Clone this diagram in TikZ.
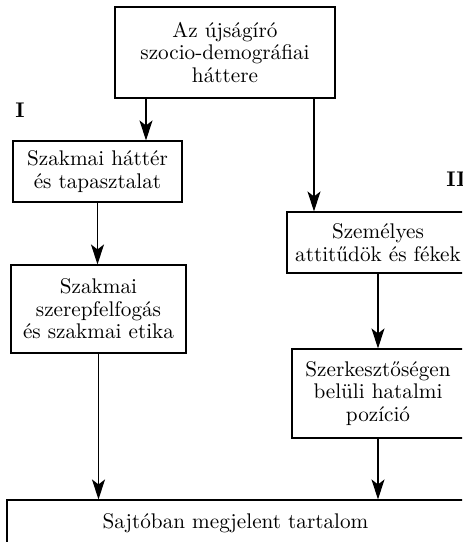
\documentclass[tikz,border=0pt]{standalone}
\usetikzlibrary{arrows.meta}

\tikzset{
  doboz/.style={draw, line width=0.55pt, align=center, inner sep=2pt,
    font=\fontsize{10.6}{11.3}\selectfont},
  nyil/.style={line width=0.55pt, -{Stealth[length=10pt,width=6.5pt,inset=2.5pt]}},
  jel/.style={font=\fontsize{10.6}{11.3}\selectfont\bfseries}
}

\begin{document}
\begin{tikzpicture}[x=0.5pt,y=-0.5pt]

\clip (0,0) rectangle (462,542);

% Dobozok
\node[doboz, minimum width=110pt, minimum height=45.5pt] (soc) at (225,52.5)
  {Az újságíró\\szocio-demográfiai\\háttere};

\node[doboz, minimum width=84.5pt, minimum height=30.5pt] (hatter) at (97.5,171.5)
  {Szakmai háttér\\és tapasztalat};
\node[doboz, minimum width=87.5pt, minimum height=44pt] (etika) at (98.5,309)
  {Szakmai\\szerepfelfogás\\és szakmai etika};

\node[doboz, minimum width=91pt, minimum height=30.5pt] (attitud) at (378,242.5)
  {Személyes\\attitűdök és fékek};
\node[doboz, minimum width=86pt, minimum height=44.5pt] (pozicio) at (378,393.5)
  {Szerkesztőségen\\belüli hatalmi\\pozíció};

\node[doboz, minimum width=228.5pt, minimum height=23pt] (tartalom) at (235.5,523)
  {Sajtóban megjelent tartalom};

% Jelek
\node[jel] (egy) at (20,110) {I};
\node[jel] (ketto) at (456,179) {II};

% Nyilak
\draw[nyil] ([xshift=-39.5pt]soc.south) -- ([xshift=-39.5pt]soc.south |- hatter.north);
\draw[nyil] ([xshift=44.5pt]soc.south) -- ([xshift=44.5pt]soc.south |- attitud.north);
\draw[nyil] (hatter.south) -- (hatter.south |- etika.north);
\draw[nyil] (etika.south) -- (etika.south |- tartalom.north);
\draw[nyil] (attitud.south) -- (pozicio.north);
\draw[nyil] (pozicio.south) -- (pozicio.south |- tartalom.north);

\end{tikzpicture}
\end{document}
